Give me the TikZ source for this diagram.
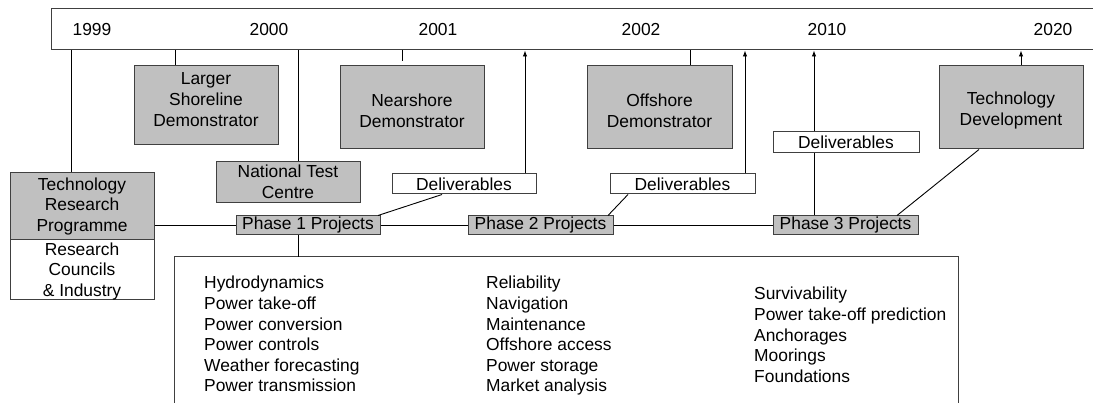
\documentclass[tikz,border=0pt]{standalone}
\usepackage{fontspec}
\setmainfont{Liberation Sans}
\usetikzlibrary{arrows.meta}
\definecolor{boxgray}{HTML}{C0C0C0}
\definecolor{edge}{HTML}{404040}
\begin{document}
\begin{tikzpicture}[x=1pt,y=-1pt,
  txt/.style={font=\fontsize{17.4}{20.8}\selectfont, inner sep=0pt, align=center},
  yearlbl/.style={txt},
  graybox/.style={txt, draw=edge, fill=boxgray, line width=1pt},
  whitebox/.style={txt, draw=edge, fill=white, line width=1pt},
  conn/.style={line width=0.9pt, draw=black},
  arr/.style={conn, -{Latex[length=6pt,width=4.5pt]}},
  listtxt/.style={font=\fontsize{17.4}{20.6}\selectfont, inner sep=0pt, align=left, anchor=north west}
]
\useasboundingbox (0,0) rectangle (1093,403);
% timeline bar
\node[whitebox, minimum width=1060pt, minimum height=41pt] (tl) at (581,29.5) {};
\node[yearlbl] (y1999) at (92,29.5) {1999};
\node[yearlbl] (y2000) at (269,29.5) {2000};
\node[yearlbl] (y2001) at (438,29.5) {2001};
\node[yearlbl] (y2002) at (641,29.5) {2002};
\node[yearlbl] (y2010) at (827,29.5) {2010};
\node[yearlbl] (y2020) at (1053,29.5) {2020};
% demonstrators
\node[graybox, minimum width=144pt, minimum height=79pt] (lsd) at (206,105.5) {};
\node[txt] (lsdt) at (206,99.5) {Larger\\Shoreline\\Demonstrator};
\node[graybox, minimum width=144pt, minimum height=83pt] (nsd) at (412,107.5) {};
\node[txt] (nsdt) at (412,110.5) {Nearshore\\Demonstrator};
\node[graybox, minimum width=145pt, minimum height=83pt] (osd) at (659.5,107.5) {};
\node[txt] (osdt) at (659.5,110.5) {Offshore\\Demonstrator};
\node[graybox, minimum width=144pt, minimum height=83pt] (tdv) at (1011,107.5) {};
\node[txt] (tdvt) at (1011,110.5) {Technology\\Development};
\node[graybox, minimum width=144pt, minimum height=41pt] (ntc) at (288,182) {National Test\\Centre};
% programme
\node[graybox, minimum width=144pt, minimum height=67pt] (trp) at (82,206.5) {Technology\\Research\\Programme};
\node[whitebox, minimum width=144pt, minimum height=60pt] (rci) at (82,270) {};
\node[txt] (rcit) at (82,271.5) {Research\\Councils\\\& Industry};
% deliverables
\node[whitebox, minimum width=144pt, minimum height=20pt] (d1) at (464,184) {Deliverables};
\node[whitebox, minimum width=145pt, minimum height=20pt] (d2) at (682.5,184) {Deliverables};
\node[whitebox, minimum width=146pt, minimum height=21pt] (d3) at (846,142.5) {Deliverables};
% phases
\node[graybox, minimum width=144pt, minimum height=19pt] (p1) at (308,225.5) {Phase 1 Projects};
\node[graybox, minimum width=145pt, minimum height=19pt] (p2) at (540.5,225.5) {Phase 2 Projects};
\node[graybox, minimum width=145pt, minimum height=19pt] (p3) at (845.5,225.5) {Phase 3 Projects};
% list box (open at bottom)
\coordinate (lbl) at (174,410);
\coordinate (ltl) at (174,257);
\coordinate (ltr) at (958,257);
\coordinate (lbr) at (958,410);
\draw[draw=edge, line width=1pt] (lbl) -- (ltl) -- (ltr) -- (lbr);
\node[listtxt] (l1) at (204,276) {Hydrodynamics\\Power take-off\\Power conversion\\Power controls\\Weather forecasting\\Power transmission};
\node[listtxt] (l2) at (486,276) {Reliability\\Navigation\\Maintenance\\Offshore access\\Power storage\\Market analysis};
\node[listtxt] (l3) at (754,287) {Survivability\\Power take-off prediction\\Anchorages\\Moorings\\Foundations};
% x positions of vertical connectors
\coordinate (x1) at (71,0);
\coordinate (x2) at (175,0);
\coordinate (x3) at (298,0);
\coordinate (x4) at (402,0);
\coordinate (x5) at (525,0);
\coordinate (x6) at (690,0);
\coordinate (x7) at (745,0);
\coordinate (x8) at (814,0);
\coordinate (x9) at (1021,0);
% connectors from timeline
\draw[conn] (tl.south -| x1) -- (trp.north -| x1);
\draw[conn] (tl.south -| x2) -- (lsd.north -| x2);
\draw[conn] (tl.south -| x3) -- (ntc.north -| x3);
\draw[conn] (tl.south -| x4) -- ([yshift=4pt]nsd.north -| x4);
\draw[conn] (tl.south -| x6) -- (osd.north -| x6);
\draw[arr] (d1.north -| x5) -- (tl.south -| x5);
\draw[arr] (d2.north -| x7) -- (tl.south -| x7);
\draw[arr] (d3.north -| x8) -- (tl.south -| x8);
\draw[arr] (tdv.north -| x9) -- (tl.south -| x9);
% phase line
\draw[conn] (trp.east |- p1.west) -- (p1.west);
\draw[conn] (p1.east) -- (p2.west);
\draw[conn] (p2.east) -- (p3.west);
% phases to deliverables
\coordinate (c1) at (442,0);
\coordinate (c2) at (628,0);
\coordinate (c3) at (979,0);
\coordinate (s1) at (378,0);
\coordinate (s2) at (608,0);
\coordinate (s3) at (897,0);
\draw[conn] (p1.north -| s1) -- (d1.south -| c1);
\draw[conn] (p2.north -| s2) -- (d2.south -| c2);
\draw[conn] (p3.north -| x8) -- (d3.south -| x8);
\draw[conn] (p3.north -| s3) -- (tdv.south -| c3);
\draw[conn] (p1.south -| x3) -- (ltl -| x3);
\end{tikzpicture}
\end{document}
